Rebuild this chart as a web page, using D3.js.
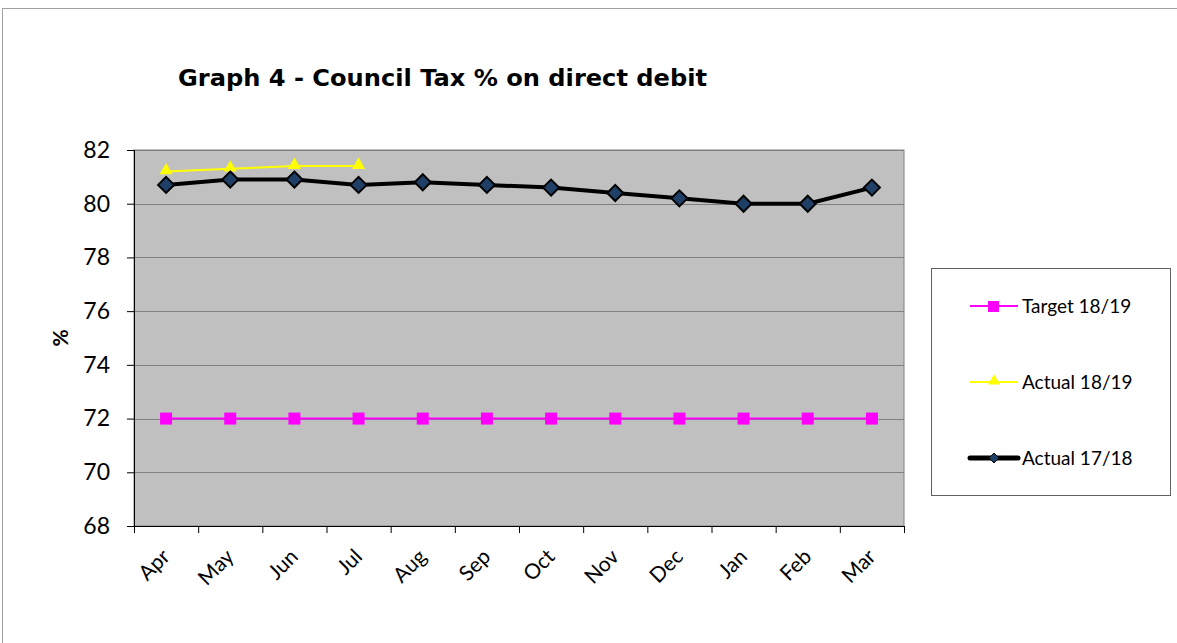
<!DOCTYPE html>
<html>
<head>
<meta charset="utf-8">
<script src="https://cdn.jsdelivr.net/npm/d3@7"></script>
<style>
body { margin: 0; background: #fff; }
text { font-family: Lato, "Open Sans", sans-serif; }
</style>
</head>
<body>
<div id="chart-area"></div>
<script>
// data
var months = ["Apr", "May", "Jun", "Jul", "Aug", "Sep", "Oct", "Nov", "Dec", "Jan", "Feb", "Mar"];
var target1819 = [72, 72, 72, 72, 72, 72, 72, 72, 72, 72, 72, 72];
var actual1819 = [81.2, 81.3, 81.4, 81.4];
var actual1718 = [80.7, 80.9, 80.9, 80.7, 80.8, 80.7, 80.6, 80.4, 80.2, 80.0, 80.0, 80.6];
var yTicks = [68, 70, 72, 74, 76, 78, 80, 82];

var W = 1177, H = 643;
var margin = { left: 134, top: 150 },
    width = 770,
    height = 376;

var svg = d3.select("#chart-area")
    .append("svg")
    .attr("width", W)
    .attr("height", H);

// outer chart border
svg.append("rect")
    .attr("x", 2.5).attr("y", 8.5)
    .attr("width", W + 10).attr("height", H + 10)
    .attr("fill", "#fff")
    .attr("stroke", "#a0a0a0");

// title
svg.append("text")
    .attr("x", 178).attr("y", 86)
    .style("font-family", "'DejaVu Sans', sans-serif")
    .attr("font-weight", "bold")
    .attr("font-size", "23px")
    .attr("textLength", 529)
    .attr("lengthAdjust", "spacingAndGlyphs")
    .text("Graph 4 - Council Tax % on direct debit");

var g = svg.append("g")
    .attr("transform", "translate(" + margin.left + "," + margin.top + ")");

// scales
var x = d3.scaleBand().domain(months).range([0, width]);
var y = d3.scaleLinear().domain([68, 82]).range([height, 0]);
var xc = function(d, i) { return x(months[i]) + x.bandwidth() / 2; };

// plot background
g.append("rect")
    .attr("width", width).attr("height", height)
    .attr("fill", "#c0c0c0")
    .attr("stroke", "#808080");

// gridlines
g.selectAll(".grid")
    .data(yTicks.slice(1))
    .enter().append("line")
    .attr("x1", 0).attr("x2", width)
    .attr("y1", function(d) { return Math.round(y(d)) + 0.5; })
    .attr("y2", function(d) { return Math.round(y(d)) + 0.5; })
    .attr("stroke", "#808080");

// y axis
var yAxis = g.append("g")
    .call(d3.axisLeft(y).tickValues(yTicks).tickSize(7).tickPadding(17));
yAxis.select(".domain").attr("stroke", "#000").attr("d", "M0.5,0V" + height);
yAxis.selectAll("line").attr("stroke", "#000");
yAxis.selectAll("text").attr("font-size", "23px").attr("fill", "#000");

// x axis
var xAxis = g.append("g")
    .attr("transform", "translate(0," + height + ")")
    .call(d3.axisBottom(x).tickSize(0).tickPadding(0));
xAxis.select(".domain").attr("stroke", "#000").attr("d", "M0,0.5H" + width);
xAxis.selectAll(".tick text")
    .attr("font-size", "21px")
    .attr("fill", "#000")
    .attr("text-anchor", "end")
    .attr("dy", 0)
    .attr("transform", "translate(5,32) rotate(-45)");
// boundary ticks
xAxis.selectAll(".btick")
    .data(d3.range(months.length + 1))
    .enter().append("line")
    .attr("x1", function(i) { return i * x.bandwidth() + 0.5; })
    .attr("x2", function(i) { return i * x.bandwidth() + 0.5; })
    .attr("y1", 0).attr("y2", 7)
    .attr("stroke", "#000");

// y label
svg.append("text")
    .attr("transform", "translate(68,338) rotate(-90)")
    .attr("text-anchor", "middle")
    .attr("font-size", "21px")
    .attr("font-weight", "bold")
    .text("%");

var line = d3.line()
    .x(xc)
    .y(function(d) { return y(d); });

// target 18/19
g.append("path")
    .attr("d", line(target1819))
    .attr("fill", "none").attr("stroke", "#ff00ff").attr("stroke-width", 2);
g.selectAll(".sq")
    .data(target1819).enter().append("rect")
    .attr("x", function(d, i) { return xc(d, i) - 6; })
    .attr("y", function(d) { return y(d) - 6; })
    .attr("width", 12).attr("height", 12)
    .attr("fill", "#ff00ff");

// actual 18/19
g.append("path")
    .attr("d", line(actual1819))
    .attr("fill", "none").attr("stroke", "#ffff00").attr("stroke-width", 2);
var tri = d3.symbol().type(d3.symbolTriangle).size(75);
g.selectAll(".tri")
    .data(actual1819).enter().append("path")
    .attr("d", tri)
    .attr("transform", function(d, i) { return "translate(" + xc(d, i) + "," + (y(d) - 1) + ")"; })
    .attr("fill", "#ffff00");

// actual 17/18
g.append("path")
    .attr("d", line(actual1718))
    .attr("fill", "none").attr("stroke", "#000").attr("stroke-width", 4);
g.selectAll(".dia")
    .data(actual1718).enter().append("path")
    .attr("d", "M0,-8L8,0L0,8L-8,0Z")
    .attr("transform", function(d, i) { return "translate(" + xc(d, i) + "," + y(d) + ")"; })
    .attr("fill", "#1f3f66")
    .attr("stroke", "#000").attr("stroke-width", 2);

// legend
var legend = svg.append("g");
legend.append("rect")
    .attr("x", 931.5).attr("y", 268.5)
    .attr("width", 239).attr("height", 227)
    .attr("fill", "#fff").attr("stroke", "#606060");

var legendItems = [
    { name: "Target 18/19", color: "#ff00ff", w: 2, mark: "sq" },
    { name: "Actual 18/19", color: "#ffff00", w: 2, mark: "tri" },
    { name: "Actual 17/18", color: "#000", w: 5, mark: "dia" }
];
var ly = [306, 382, 458];
legendItems.forEach(function(it, i) {
    var row = legend.append("g").attr("transform", "translate(0," + ly[i] + ")");
    row.append("line")
        .attr("x1", 970).attr("x2", 1018)
        .attr("stroke", it.color).attr("stroke-width", it.w)
        .attr("stroke-linecap", it.mark == "dia" ? "round" : "butt");
    if (it.mark == "sq") {
        row.append("rect").attr("x", 988).attr("y", -5).attr("width", 11).attr("height", 11)
            .attr("fill", it.color);
    } else if (it.mark == "tri") {
        row.append("path").attr("d", d3.symbol().type(d3.symbolTriangle).size(60))
            .attr("transform", "translate(994,-1)").attr("fill", it.color);
    } else {
        row.append("path").attr("d", "M0,-5L5,0L0,5L-5,0Z")
            .attr("transform", "translate(994,0)")
            .attr("fill", "#1f3f66").attr("stroke", "#000").attr("stroke-width", 1);
    }
    row.append("text")
        .attr("x", 1022).attr("y", 7)
        .attr("font-size", "19px")
        .text(it.name);
});
</script>
</body>
</html>
